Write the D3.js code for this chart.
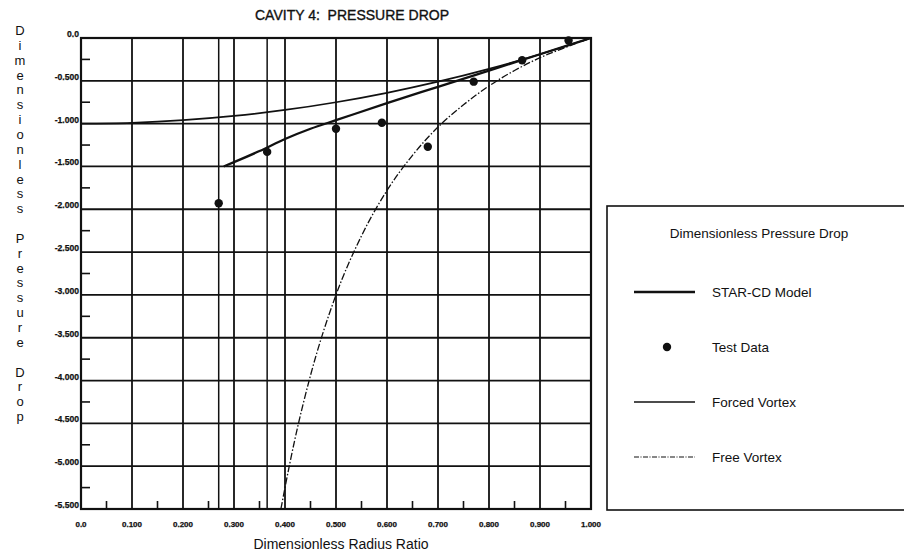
<!DOCTYPE html>
<html>
<head>
<meta charset="utf-8">
<script src="https://cdn.jsdelivr.net/npm/d3@7/dist/d3.min.js"></script>
<style>
  html, body { margin: 0; padding: 0; background: #fff; }
  svg { display: block; }
</style>
</head>
<body>
<svg id="chart" width="904" height="560"></svg>
<script>
// ---------- data ----------
const titleText = "CAVITY 4:  PRESSURE DROP";
const xTitle = "Dimensionless Radius Ratio";
const yTitle = "Dimensionless Pressure Drop";
const legendTitle = "Dimensionless Pressure Drop";

const xTicks = [0, 0.1, 0.2, 0.3, 0.4, 0.5, 0.6, 0.7, 0.8, 0.9, 1.0];
const xTickLabels = ["0.0", "0.100", "0.200", "0.300", "0.400", "0.500", "0.600", "0.700", "0.800", "0.900", "1.000"];
const yTicks = [0, -0.5, -1.0, -1.5, -2.0, -2.5, -3.0, -3.5, -4.0, -4.5, -5.0, -5.5];
const yTickLabels = ["0.0", "-0.500", "-1.000", "-1.500", "-2.000", "-2.500", "-3.000", "-3.500", "-4.000", "-4.500", "-5.000", "-5.500"];

// Test data
const testX = [0.27, 0.365, 0.50, 0.59, 0.68, 0.77, 0.865, 0.956];
const testY = [-1.93, -1.33, -1.06, -0.99, -1.27, -0.51, -0.26, -0.03];

// STAR-CD model
const starX = [0.28, 0.30, 0.35, 0.40, 0.45, 0.50, 0.60, 0.70, 0.80, 0.90, 1.00];
const starY = [-1.50, -1.45, -1.32, -1.18, -1.06, -0.96, -0.76, -0.57, -0.38, -0.19, 0.00];

// Forced vortex
const forcedX = [0.0, 0.1, 0.2, 0.3, 0.4, 0.5, 0.6, 0.7, 0.8, 0.9, 1.0];
const forcedY = [-1.00, -0.99, -0.96, -0.91, -0.84, -0.75, -0.64, -0.51, -0.36, -0.19, 0.00];

// Free vortex
const freeX = [0.392, 0.40, 0.42, 0.45, 0.50, 0.55, 0.60, 0.65, 0.70, 0.75, 0.80, 0.85, 0.90, 0.95, 1.00];
const freeY = [-5.50, -5.25, -4.67, -3.94, -3.00, -2.31, -1.78, -1.37, -1.04, -0.78, -0.56, -0.38, -0.23, -0.11, 0.00];

// vertical guide lines through the first two test points
const guideX = [testX[0], testX[1]];

const legendItems = ["STAR-CD Model", "Test Data", "Forced Vortex", "Free Vortex"];

// ---------- drawing ----------
const svg = d3.select("#chart");
const ink = "#111";
const font = "'Liberation Sans', Arial, Helvetica, sans-serif";

const x = d3.scaleLinear().domain([0, 1]).range([81, 591]);
const y = d3.scaleLinear().domain([-5.5, 0]).range([509, 38]);

// title
svg.append("text")
  .attr("x", 352).attr("y", 20)
  .attr("text-anchor", "middle")
  .attr("font-family", font).attr("font-size", 14)
  .attr("fill", ink).attr("stroke", ink).attr("stroke-width", 0.35)
  .style("white-space", "pre")
  .text(titleText);

// grid
const g = svg.append("g");
g.selectAll(".vg").data(xTicks.slice(1, -1)).join("line")
  .attr("x1", d => x(d)).attr("x2", d => x(d))
  .attr("y1", y(0)).attr("y2", y(-5.5))
  .attr("stroke", ink).attr("stroke-width", 1.8);
g.selectAll(".hg").data(yTicks.slice(1, -1)).join("line")
  .attr("x1", x(0)).attr("x2", x(1))
  .attr("y1", d => y(d)).attr("y2", d => y(d))
  .attr("stroke", ink).attr("stroke-width", 1.8);

// guide lines
g.selectAll(".gl").data(guideX).join("line")
  .attr("x1", d => x(d)).attr("x2", d => x(d))
  .attr("y1", y(0)).attr("y2", y(-5.5))
  .attr("stroke", ink).attr("stroke-width", 1.5);

// minor ticks
const minorX = d3.range(0.05, 1, 0.1);
g.selectAll(".mx").data(minorX).join("line")
  .attr("x1", d => x(d)).attr("x2", d => x(d))
  .attr("y1", y(-5.5)).attr("y2", y(-5.5) - 8)
  .attr("stroke", ink).attr("stroke-width", 1.6);
const minorY = d3.range(-0.25, -5.5, -0.5);
g.selectAll(".my").data(minorY).join("line")
  .attr("x1", x(0)).attr("x2", x(0) + 9)
  .attr("y1", d => y(d)).attr("y2", d => y(d))
  .attr("stroke", ink).attr("stroke-width", 1.6);

// frame
g.append("rect")
  .attr("x", x(0)).attr("y", y(0))
  .attr("width", x(1) - x(0)).attr("height", y(-5.5) - y(0))
  .attr("fill", "none").attr("stroke", ink).attr("stroke-width", 2.2);

// tick labels
svg.append("g").selectAll("text").data(xTicks).join("text")
  .attr("x", d => x(d)).attr("y", 527)
  .attr("text-anchor", "middle")
  .attr("font-family", font).attr("font-size", 8).attr("font-weight", "bold")
  .attr("fill", ink).attr("stroke", ink).attr("stroke-width", 0.25)
  .text((d, i) => xTickLabels[i]);
svg.append("g").selectAll("text").data(yTicks).join("text")
  .attr("x", 79).attr("y", d => y(d) - 1)
  .attr("text-anchor", "end")
  .attr("font-family", font).attr("font-size", 8.6).attr("font-weight", "bold")
  .attr("fill", ink).attr("stroke", ink).attr("stroke-width", 0.25)
  .text((d, i) => yTickLabels[i]);

// axis titles
svg.append("text")
  .attr("x", 341).attr("y", 549)
  .attr("text-anchor", "middle")
  .attr("font-family", font).attr("font-size", 14)
  .attr("fill", ink)
  .text(xTitle);

const yChars = yTitle.split("");
svg.append("g").selectAll("text").data(yChars).join("text")
  .attr("x", 20).attr("y", (d, i) => 35 + i * 14.85)
  .attr("text-anchor", "middle")
  .attr("font-family", font).attr("font-size", 13)
  .attr("fill", ink)
  .text(d => d);

// series
const lineGen = d3.line().x(d => x(d[0])).y(d => y(d[1])).curve(d3.curveMonotoneX);
svg.append("clipPath").attr("id", "plotclip").append("rect")
  .attr("x", x(0)).attr("y", y(0) - 2).attr("width", x(1) - x(0) + 2).attr("height", y(-5.5) - y(0) + 2);

const plot = svg.append("g").attr("clip-path", "url(#plotclip)");
plot.append("path")
  .datum(forcedX.map((v, i) => [v, forcedY[i]]))
  .attr("d", lineGen).attr("fill", "none")
  .attr("stroke", ink).attr("stroke-width", 1.7);
plot.append("path")
  .datum(freeX.map((v, i) => [v, freeY[i]]))
  .attr("d", lineGen).attr("fill", "none")
  .attr("stroke", ink).attr("stroke-width", 1.3)
  .attr("stroke-dasharray", "7,2,1.5,2");
plot.append("path")
  .datum(starX.map((v, i) => [v, starY[i]]))
  .attr("d", lineGen).attr("fill", "none")
  .attr("stroke", ink).attr("stroke-width", 2.3);

svg.append("g").selectAll("circle").data(testX).join("circle")
  .attr("cx", d => x(d)).attr("cy", (d, i) => y(testY[i]))
  .attr("r", 4.2).attr("fill", ink);

// legend
const lg = svg.append("g");
lg.append("rect")
  .attr("x", 607).attr("y", 206)
  .attr("width", 320).attr("height", 304)
  .attr("fill", "none").attr("stroke", ink).attr("stroke-width", 1.6);
lg.append("text")
  .attr("x", 759).attr("y", 238)
  .attr("text-anchor", "middle")
  .attr("font-family", font).attr("font-size", 13.5)
  .attr("fill", ink)
  .text(legendTitle);

const legY = [292, 347, 402, 457];
const legStyles = [
  { w: 2.3, dash: null },
  null,
  { w: 1.6, dash: null },
  { w: 1.2, dash: "5,1.5,1,1.5" }
];
legendItems.forEach((name, i) => {
  if (legStyles[i]) {
    lg.append("line")
      .attr("x1", 634).attr("x2", 695)
      .attr("y1", legY[i]).attr("y2", legY[i])
      .attr("stroke", ink).attr("stroke-width", legStyles[i].w)
      .attr("stroke-dasharray", legStyles[i].dash);
  } else {
    lg.append("circle").attr("cx", 667).attr("cy", legY[i]).attr("r", 4.2).attr("fill", ink);
  }
  lg.append("text")
    .attr("x", 712).attr("y", legY[i] + 5)
    .attr("font-family", font).attr("font-size", 13.5)
    .attr("fill", ink)
    .text(name);
});
</script>
</body>
</html>
